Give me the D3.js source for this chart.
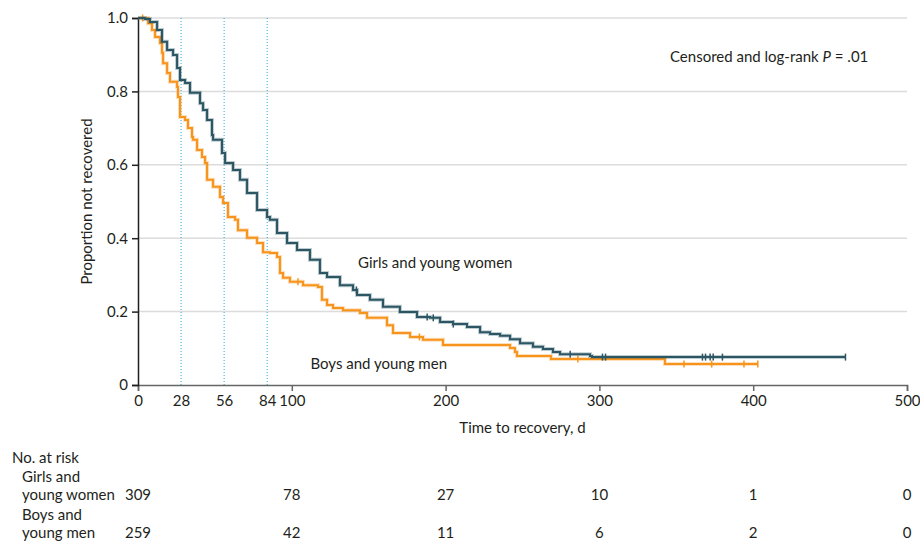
<!DOCTYPE html>
<html>
<head>
<meta charset="utf-8">
<script src="https://cdn.jsdelivr.net/npm/d3@7"></script>
<style>
  body { margin: 0; background: #fff; }
  svg text { font-family: Lato, "Noto Sans", sans-serif; fill: #231f20; }
</style>
</head>
<body>
<div id="chart-area"></div>
<script>
// Kaplan-Meier curves: [day, proportion not recovered]
var girlsSteps = [[0,1.0],[4.5,0.997],[7.8,0.989],[12.4,0.967],[15.6,0.935],[18.9,0.913],[22.8,0.899],
  [25.4,0.864],[27.3,0.831],[30.6,0.823],[33.8,0.796],[40.3,0.768],[42.3,0.749],[44.9,0.722],[48.1,0.681],
  [48.8,0.668],[54.6,0.632],[56.6,0.605],[61.8,0.586],[66.3,0.559],[70.9,0.523],[77.4,0.477],[83.9,0.458],
  [85.8,0.45],[90.4,0.414],[96.9,0.387],[103.4,0.368],[111.8,0.341],[118.3,0.305],[122.9,0.294],[131.3,0.272],
  [139.8,0.259],[142.4,0.245],[150.8,0.232],[159.3,0.213],[170.3,0.199],[181.4,0.185],[189.9,0.183],
  [196.4,0.172],[204.8,0.166],[213.9,0.158],[222.4,0.144],[228.9,0.139],[235.4,0.134],[241.9,0.125],
  [248.4,0.114],[256.8,0.104],[263.3,0.098],[269.8,0.09],[274.4,0.084],[293.9,0.079],[295.2,0.076],[460,0.076]];
var girlsCensored = [142, 188, 192, 205, 281, 302, 304, 367, 369, 372, 374, 380, 460];

var boysSteps = [[0,1.0],[6.5,0.986],[9.1,0.967],[11.1,0.948],[14.3,0.932],[15.6,0.905],[16.3,0.877],
  [18.9,0.85],[20.8,0.826],[25.4,0.812],[26.0,0.785],[27.3,0.73],[30.6,0.722],[32.5,0.7],[35.1,0.676],
  [35.8,0.668],[38.4,0.64],[41.6,0.621],[43.6,0.605],[44.9,0.559],[48.8,0.54],[53.3,0.512],[55.3,0.496],
  [58.5,0.458],[63.1,0.45],[65.0,0.422],[70.9,0.401],[77.4,0.387],[81.3,0.362],[85.8,0.36],[90.4,0.349],
  [92.3,0.305],[94.3,0.292],[98.8,0.281],[107.3,0.272],[117.0,0.267],[119.6,0.232],[122.9,0.218],
  [126.8,0.21],[133.3,0.204],[144.3,0.196],[148.9,0.183],[161.9,0.163],[165.8,0.142],[176.9,0.131],
  [185.3,0.123],[198.3,0.109],[241.9,0.101],[245.1,0.09],[246.4,0.079],[268.5,0.071],[342.6,0.057],[403,0.057]];
var boysCensored = [3, 104, 183, 286, 355, 373, 394, 403];

var xTicks = [0, 100, 200, 300, 400, 500];
var xExtraTicks = [28, 56, 84];
var yTicks = [0, 0.2, 0.4, 0.6, 0.8, 1.0];

var riskTimes = [0, 100, 200, 300, 400, 500];
var girlsRisk = [309, 78, 27, 10, 1, 0];
var boysRisk = [259, 42, 11, 6, 2, 0];

var girlsColor = "#2c5664";
var boysColor = "#f7941d";
var fs = "15px";

var margin = {top: 18, left: 138, right: 13, bottom: 159};
var width = 920 - margin.left - margin.right;
var height = 544 - margin.top - margin.bottom;

var svg = d3.select("#chart-area").append("svg")
  .attr("width", 920).attr("height", 544);
var g = svg.append("g").attr("transform", "translate(" + margin.left + "," + margin.top + ")");

var x = d3.scaleLinear().domain([0, 500]).range([0, width]);
var y = d3.scaleLinear().domain([0, 1]).range([height, 0]);

// grid lines
g.selectAll(".grid").data(yTicks.filter(function(d){ return d > 0; })).enter()
  .append("line").attr("class", "grid")
  .attr("x1", 0).attr("x2", width)
  .attr("y1", function(d){ return y(d); }).attr("y2", function(d){ return y(d); })
  .attr("stroke", "#dcdcdc").attr("stroke-width", 1.5);

// dotted reference lines
g.selectAll(".ref").data(xExtraTicks).enter()
  .append("line").attr("class", "ref")
  .attr("x1", function(d){ return x(d); }).attr("x2", function(d){ return x(d); })
  .attr("y1", 0).attr("y2", height)
  .attr("stroke", "#27aae1").attr("stroke-width", 1).attr("stroke-dasharray", "1,2");

// x axis
var xAxis = g.append("g").attr("transform", "translate(0," + height + ")")
  .call(d3.axisBottom(x).tickValues(xTicks.concat(xExtraTicks)).tickSize(6).tickPadding(4).tickFormat(d3.format("d")));
xAxis.select(".domain").attr("stroke", "#666").attr("stroke-width", 1.5);
xAxis.selectAll(".tick line").attr("stroke", "#666").attr("stroke-width", 1.5)
  .attr("y2", function(d){ return xExtraTicks.indexOf(d) >= 0 ? 0 : 6; });
xAxis.selectAll(".tick text").style("font-size", fs).style("font-family", "Lato, sans-serif").attr("fill", "#231f20");

// y axis
var yAxis = g.append("g")
  .call(d3.axisLeft(y).tickValues(yTicks).tickSize(6).tickPadding(4)
    .tickFormat(function(d){ return d === 0 ? "0" : d3.format(".1f")(d); }));
yAxis.select(".domain").attr("stroke", "#231f20").attr("stroke-width", 1.5);
yAxis.selectAll(".tick line").attr("stroke", "#231f20").attr("stroke-width", 1.5);
yAxis.selectAll(".tick text").style("font-size", fs).style("font-family", "Lato, sans-serif").attr("fill", "#231f20");

// axis labels
g.append("text").attr("x", width / 2).attr("y", height + 48)
  .attr("text-anchor", "middle").style("font-size", fs).text("Time to recovery, d");
g.append("text").attr("transform", "rotate(-90)")
  .attr("x", -height / 2).attr("y", -46)
  .attr("text-anchor", "middle").style("font-size", fs).text("Proportion not recovered");

// KM lines
var line = d3.line().curve(d3.curveStepAfter)
  .x(function(d){ return x(d[0]); }).y(function(d){ return y(d[1]); });

function stepValue(steps, t) {
  var v = steps[0][1];
  steps.forEach(function(s){ if (s[0] <= t) v = s[1]; });
  return v;
}

function drawCurve(steps, censored, color) {
  g.append("path").datum(steps).attr("d", line)
    .attr("fill", "none").attr("stroke", color).attr("stroke-opacity", 0.3).attr("stroke-width", 4);
  g.append("path").datum(steps).attr("d", line)
    .attr("fill", "none").attr("stroke", color).attr("stroke-width", 2);
  g.selectAll(null).data(censored).enter().append("line")
    .attr("x1", function(d){ return x(d); }).attr("x2", function(d){ return x(d); })
    .attr("y1", function(d){ return y(stepValue(steps, d)) - 3.5; })
    .attr("y2", function(d){ return y(stepValue(steps, d)) + 3.5; })
    .attr("stroke", color).attr("stroke-width", 1.5);
}
drawCurve(boysSteps, boysCensored, boysColor);
drawCurve(girlsSteps, girlsCensored, girlsColor);

// annotations
var ann = g.append("text").attr("x", 532).attr("y", 44).style("font-size", fs);
ann.append("tspan").text("Censored and log-rank ");
ann.append("tspan").style("font-style", "italic").text("P");
ann.append("tspan").text(" = .01");
g.append("text").attr("x", 220).attr("y", 250).style("font-size", fs).text("Girls and young women");
g.append("text").attr("x", 309).attr("y", 351).attr("text-anchor", "end").style("font-size", fs).text("Boys and young men");

// risk table
svg.append("text").attr("x", 12).attr("y", 463).style("font-size", fs).text("No. at risk");
var labels = [["Girls and", 482], ["young women", 500], ["Boys and", 520], ["young men", 538]];
labels.forEach(function(l){
  svg.append("text").attr("x", 22).attr("y", l[1]).style("font-size", fs).text(l[0]);
});
function riskRow(vals, yy) {
  svg.selectAll(null).data(vals).enter().append("text")
    .attr("x", function(d, i){ return margin.left + x(riskTimes[i]); })
    .attr("y", yy).attr("text-anchor", "middle").style("font-size", fs)
    .text(function(d){ return d; });
}
riskRow(girlsRisk, 500);
riskRow(boysRisk, 538);
</script>
</body>
</html>
